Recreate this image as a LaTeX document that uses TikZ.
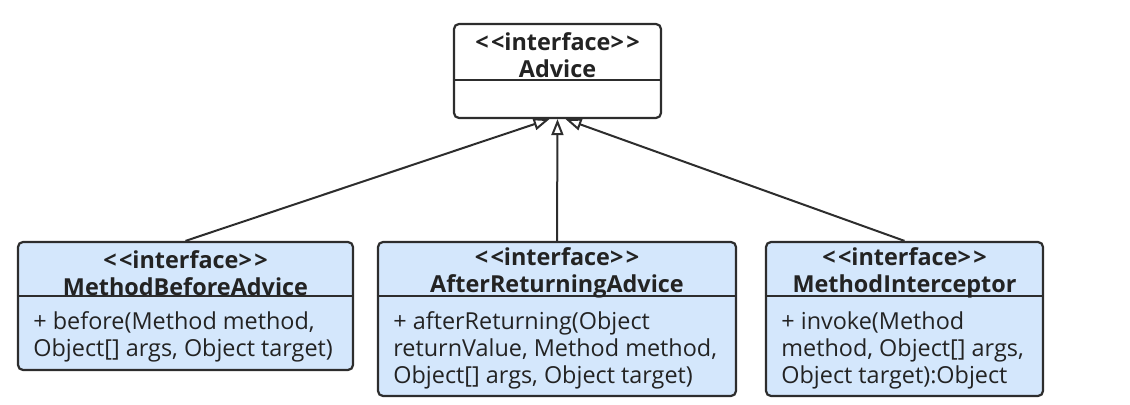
\documentclass[tikz,border=0pt]{standalone}
\usepackage{fontspec}
\setmainfont{Open Sans}[Ligatures=TeXOff]
\usetikzlibrary{positioning,arrows.meta,calc}

\definecolor{ifacefill}{RGB}{212,231,252}
\definecolor{umlline}{RGB}{45,45,45}
\definecolor{umltext}{RGB}{35,35,35}

\newcommand{\stereo}[1]{<\kern1.2pt<#1>\kern1.2pt>}

\begin{document}
\begin{tikzpicture}[
  x=0.5pt, y=-0.5pt,
  >=Triangle,
  classbox/.style={draw=umlline, line width=1.1pt, rounded corners=2.5pt, fill=ifacefill, inner sep=0pt},
  headtext/.style={font=\fontsize{11.7}{13.5}\selectfont\bfseries, text=umltext, align=center, inner sep=0pt},
  optext/.style={font=\fontsize{11.7}{13.5}\selectfont, text=umltext, align=left, anchor=west, inner sep=0pt},
  divider/.style={draw=umlline, line width=1.1pt},
  realize/.style={draw=umlline, line width=1pt, -{Triangle[fill=white, length=8pt, width=6pt]}},
]
  \useasboundingbox (0,0) rectangle (1130,405);

  % Top interface
  \node[classbox, fill=white, minimum width=103.5pt, minimum height=47pt] (adv) at (557.5,71) {};
  \draw[divider] ($(adv.north west)+(0,57)$) -- ($(adv.north east)+(0,57)$);
  \node[headtext] (advhead) at (557.5,55) {\stereo{interface}\\Advice};

  % Sub-interfaces
  \node[classbox, minimum width=167.5pt, minimum height=64pt] (mba) at (185.5,306) {};
  \draw[divider] ($(mba.north west)+(0,55)$) -- ($(mba.north east)+(0,55)$);
  \node[headtext] (mbahead) at (185.5,273) {\stereo{interface}\\MethodBeforeAdvice};
  \node[optext] (mbaop) at (33,337) {+ before(Method method,\\Object[] args, Object target)};

  \node[classbox, minimum width=179pt, minimum height=77pt] (ara) at (557,319) {};
  \draw[divider] ($(ara.north west)+(0,55)$) -- ($(ara.north east)+(0,55)$);
  \node[headtext] (arahead) at (557,273) {\stereo{interface}\\AfterReturningAdvice};
  \node[optext] (araop) at (393,350) {+ afterReturning(Object\\returnValue, Method method,\\Object[] args, Object target)};

  \node[classbox, minimum width=138.5pt, minimum height=77pt] (mi) at (904.5,319) {};
  \draw[divider] ($(mi.north west)+(0,55)$) -- ($(mi.north east)+(0,55)$);
  \node[headtext] (mihead) at (904.5,273) {\stereo{interface}\\MethodInterceptor};
  \node[optext] (miop) at (781,350) {+ invoke(Method\\method, Object[] args,\\Object target):Object};

  % Generalization
  \draw[realize] (mba.north) -- ($(adv.south)+(-8,0)$);
  \draw[realize] (ara.north) -- (adv.south);
  \draw[realize] (mi.north) -- ($(adv.south)+(8,0)$);

\end{tikzpicture}
\end{document}
